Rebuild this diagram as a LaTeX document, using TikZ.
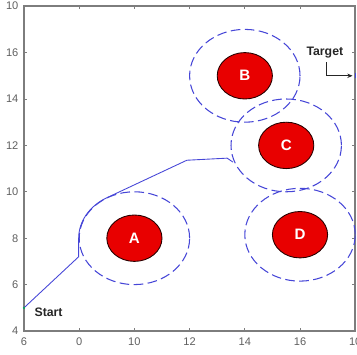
\documentclass[tikz,border=0pt]{standalone}
\usepackage{fontspec}
\setmainfont{Liberation Sans}
\usetikzlibrary{shapes.geometric,arrows.meta}
\definecolor{zoneblue}{RGB}{70,70,215}
\definecolor{obsred}{RGB}{232,0,0}
\definecolor{axgray}{RGB}{125,125,125}
\definecolor{labgray}{RGB}{95,95,95}
\begin{document}
\begin{tikzpicture}[x=0.552cm,y=0.464cm,
  obstacle/.style={ellipse,draw=black!85!red,line width=0.5pt,fill=obsred,
    minimum width=1.104cm,minimum height=0.928cm,inner sep=0pt,text=white,
    font=\fontsize{8.6}{9}\selectfont\bfseries},
  zone/.style={ellipse,draw=zoneblue,line width=0.6pt,dash pattern=on 5.5pt off 2.5pt,
    minimum width=2.208cm,minimum height=1.856cm,inner sep=0pt},
  axisline/.style={draw=axgray,line width=0.9pt},
  ticklab/.style={text=labgray,font=\fontsize{6.3}{7}\selectfont,inner sep=0pt},
  tag/.style={font=\fontsize{7}{8}\selectfont\bfseries,text=black!85,inner sep=0pt},
  route/.style={draw=zoneblue,line width=0.5pt}]
\useasboundingbox (5.1304,3.0086) rectangle (18.065,18.267);
% axes box
\draw[axisline] (6,4) rectangle (18,18);
\foreach \x/\t in {6/6,8/0,10/10,12/12,14/14,16/16,18/10}{
  \draw[axisline,line width=0.5pt] (\x,4) -- ++(0,0.13);
  \draw[axisline,line width=0.5pt] (\x,18) -- ++(0,-0.13);
  \node[ticklab,anchor=north] (xl\x) at ([yshift=-3.5pt]\x,4) {\t};
}
\foreach \y/\t in {4/4,6/6,8/8,10/10,12/12,14/14,16/16,18/10}{
  \draw[axisline,line width=0.5pt] (6,\y) -- ++(0.11,0);
  \draw[axisline,line width=0.5pt] (18,\y) -- ++(-0.11,0);
  \node[ticklab,anchor=east] (yl\y) at ([xshift=-3pt]6,\y) {\t};
}
% safety zones
\node[zone] (zA) at (10,8) {};
\node[zone] (zB) at (14,15) {};
\node[zone] (zC) at (15.5,12) {};
\node[zone] (zD) at (16,8.15) {};
% obstacles
\node[obstacle] (A) at (10,8) {A};
\node[obstacle] (B) at (14,15) {B};
\node[obstacle] (C) at (15.5,12) {C};
\node[obstacle] (D) at (16,8.15) {D};
% route
\coordinate (s) at (6,5);
\coordinate (e) at (13.57,11.28);
\draw[route] (s) -- (7.98,7.2) -- (zA.west)
  arc[start angle=180,end angle=120,x radius=1.104cm,y radius=0.928cm]
  -- (11.9,11.36) -- (13.36,11.45) -- (e);
\fill[teal!70!green] (s) circle[radius=0.7pt];
% target
\coordinate (tgt) at (18,15);
\draw[zoneblue,line width=0.6pt] ([yshift=-1.5pt]tgt) -- ([yshift=1.5pt]tgt);
\node[tag] (start) at (6.89,4.81) {Start};
\node[tag] (target) at (16.9,16.02) {Target};
\draw[black!85,line width=0.5pt,-{Stealth[length=3pt,width=2.5pt]}]
  ([xshift=1pt,yshift=-2.5pt]target.south) |- ([xshift=-1.5pt]tgt);
\end{tikzpicture}
\end{document}
